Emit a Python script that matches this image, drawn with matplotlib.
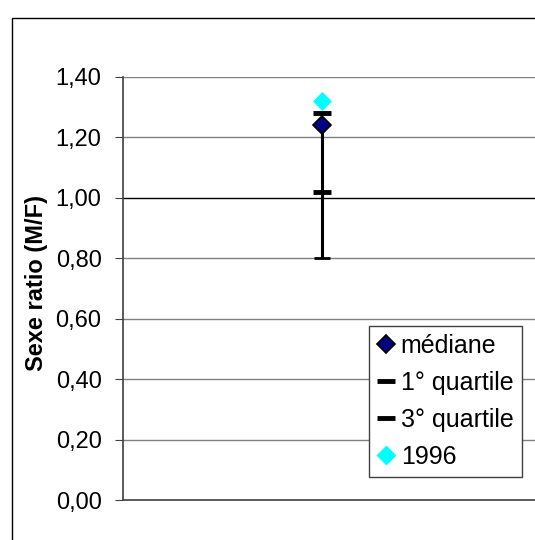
import matplotlib
matplotlib.use("Agg")
import matplotlib.pyplot as plt
from matplotlib.patches import Rectangle
from matplotlib.lines import Line2D
from matplotlib.ticker import FixedLocator

plt.rcParams['font.family'] = ['Liberation Sans', 'DejaVu Sans']

yticks = [0.0, 0.2, 0.4, 0.6, 0.8, 1.0, 1.2, 1.4]
ytick_labels = ["0,00", "0,20", "0,40", "0,60", "0,80", "1,00", "1,20", "1,40"]
mediane = [1.24]
q1 = [1.02]
q3 = [1.28]
minimum = [0.80]
annee_1996 = [1.32]
labels = ["médiane", "1° quartile", "3° quartile", "1996"]

W, H = 535, 540
fig = plt.figure(figsize=(W / 100, H / 100), dpi=100)

# outer frame
fig.add_artist(Rectangle((12 / W, -0.1), 1.2, (H - 18) / H + 0.1,
                         transform=fig.transFigure, fill=False,
                         edgecolor='black', linewidth=1.0))

left, right_px, top, bottom = 123, 560, 77, 500
ax = fig.add_axes([left / W, (H - bottom) / H, (right_px - left) / W, (bottom - top) / H])
ax.set_ylim(0, 1.4)
xpos = 322
ax.set_xlim(0, (right_px - left) / (xpos - left))
x = [1.0]

for sp in ['top', 'right']:
    ax.spines[sp].set_visible(False)
for sp in ['left', 'bottom']:
    ax.spines[sp].set_color('#404040')
    ax.spines[sp].set_linewidth(1.2)

ax.yaxis.set_major_locator(FixedLocator(yticks))
ax.set_yticklabels(ytick_labels, fontsize=17)
ax.tick_params(axis='y', length=6, color='#404040', pad=9.4)
ax.set_xticks([])

for v in yticks[1:]:
    ax.axhline(v, color='black' if v == 1.0 else '#808080', linewidth=1.0, zorder=1)

# error bar (min to median)
ax.errorbar(x, mediane, yerr=[[m - mn for m, mn in zip(mediane, minimum)], [0]],
            fmt='none', ecolor='black', elinewidth=2.2, capsize=5.8, capthick=2, zorder=3)
ax.plot(x, q1, linestyle='none', marker='_', markersize=13.5, markeredgewidth=3.5, color='black', zorder=4)
ax.plot(x, q3, linestyle='none', marker='_', markersize=13.5, markeredgewidth=3.5, color='black', zorder=4)
ax.plot(x, mediane, linestyle='none', marker='D', markersize=9.5, markerfacecolor='#000080',
        markeredgecolor='black', markeredgewidth=1.2, zorder=5)
ax.plot(x, annee_1996, linestyle='none', marker='D', markersize=9.5, markerfacecolor='#00FFFF',
        markeredgecolor='#00FFFF', markeredgewidth=0.5, zorder=5)

ax.set_ylabel("Sexe ratio (M/F)", fontsize=17, fontweight='bold')
ax.yaxis.set_label_coords(48 / W, (H - 283) / H, transform=fig.transFigure)

handles = [
    Line2D([], [], linestyle='none', marker='D', markersize=9.5, markerfacecolor='#000080',
           markeredgecolor='black', markeredgewidth=1.2),
    Line2D([], [], linestyle='none', marker='_', markersize=13.5, markeredgewidth=3.5, color='black'),
    Line2D([], [], linestyle='none', marker='_', markersize=13.5, markeredgewidth=3.5, color='black'),
    Line2D([], [], linestyle='none', marker='D', markersize=9.5, markerfacecolor='#00FFFF',
           markeredgecolor='#00FFFF'),
]
leg = fig.legend(handles, labels, loc='upper left', bbox_to_anchor=(369 / W, (H - 326) / H),
                 fontsize=18, frameon=True, fancybox=False, edgecolor='#404040',
                 handlelength=0.75, handletextpad=0.2, borderpad=0.32, labelspacing=0.52,
                 borderaxespad=0, framealpha=1)
leg.get_frame().set_linewidth(1.0)

fig.savefig("out.png", dpi=100)
